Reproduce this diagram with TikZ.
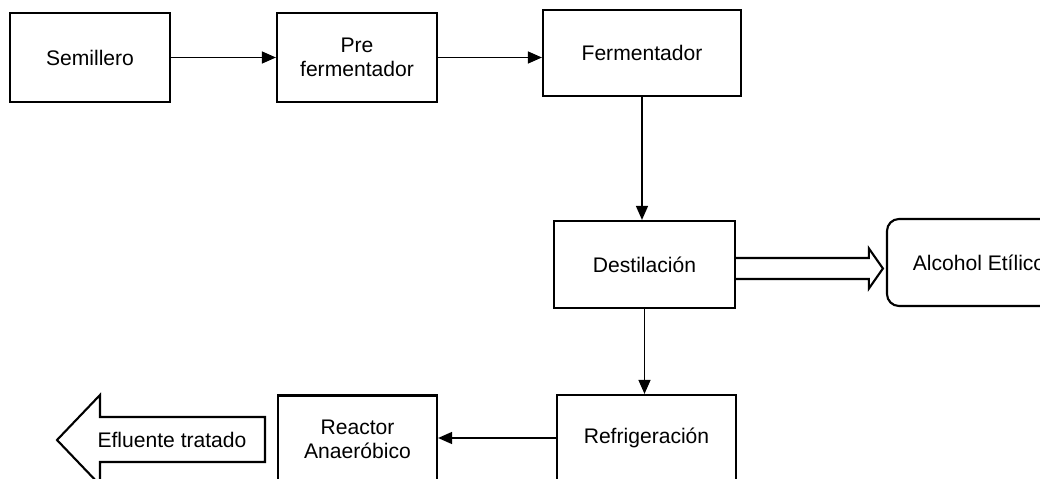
\documentclass[tikz,border=0pt]{standalone}
\usepackage{fontspec}
\setmainfont{Liberation Sans}
\usetikzlibrary{arrows.meta,calc}

\tikzset{
  etapa/.style={draw, line width=1.5pt, align=center, inner sep=0pt,
    font=\fontsize{15pt}{17pt}\selectfont},
  flecha/.style={line width=1.2pt, -{Triangle[length=10pt,width=8.5pt]}},
  bloque/.style={line width=1.5pt, line join=miter}
}

\begin{document}
\begin{tikzpicture}[x=0.025cm,y=-0.025cm]
\useasboundingbox (0,0) rectangle (1040,479);
\clip (0,0) rectangle (1040,479);

\node [etapa, minimum width=4cm, minimum height=2.225cm] (semillero) at (90,57.5) {Semillero};
\node [etapa, minimum width=4cm, minimum height=2.225cm] (prefer) at (357,57.5) {Pre\\fermentador};
\node [etapa, minimum width=4.95cm, minimum height=2.15cm] (ferm) at (642,53) {Fermentador};
\node [etapa, minimum width=4.525cm, minimum height=2.175cm] (dest) at (644.5,264.5) {Destilaci\'on};
\node [etapa, rounded corners=0.3cm, minimum width=4.6cm, minimum height=2.175cm] (alcohol) at (979,262.5) {Alcohol Et\'ilico};
\node [etapa, minimum width=4.475cm, minimum height=2.15cm] (refri) at (646.5,438) {Refrigeraci\'on};
\node [etapa, minimum width=3.975cm, minimum height=2.175cm] (reactor) at (357.5,439) {Reactor\\Anaer\'obico};
\node [etapa, draw=none] (efluente) at (172,440) {Efluente tratado};

\draw [flecha] (semillero) -- (prefer);
\draw [flecha] (prefer.east) -- (prefer.east -| ferm.west);
\draw [flecha] (ferm.south) -- (ferm.south |- dest.north);
\draw [flecha] (dest.south) -- (dest.south |- refri.north);
\draw [flecha] (refri.west) -- (refri.west -| reactor.east);

% salida de alcohol
\coordinate (sal) at ($(dest.east)+(0,4)$);
\coordinate (lleg) at ($(sal -| alcohol.west)+(-3,0)$);
\draw [bloque] ($(sal)+(0,-10.5)$) -- ($(lleg)+(-14,-10.5)$) -- ($(lleg)+(-14,-20)$) -- (lleg)
  -- ($(lleg)+(-14,20)$) -- ($(lleg)+(-14,10.5)$) -- ($(sal)+(0,10.5)$);

% efluente
\draw [bloque] (265,417) -- (100,417) -- (100,395) -- (57,440) -- (100,485) -- (100,462) -- (265,462) -- cycle;

\end{tikzpicture}
\end{document}
